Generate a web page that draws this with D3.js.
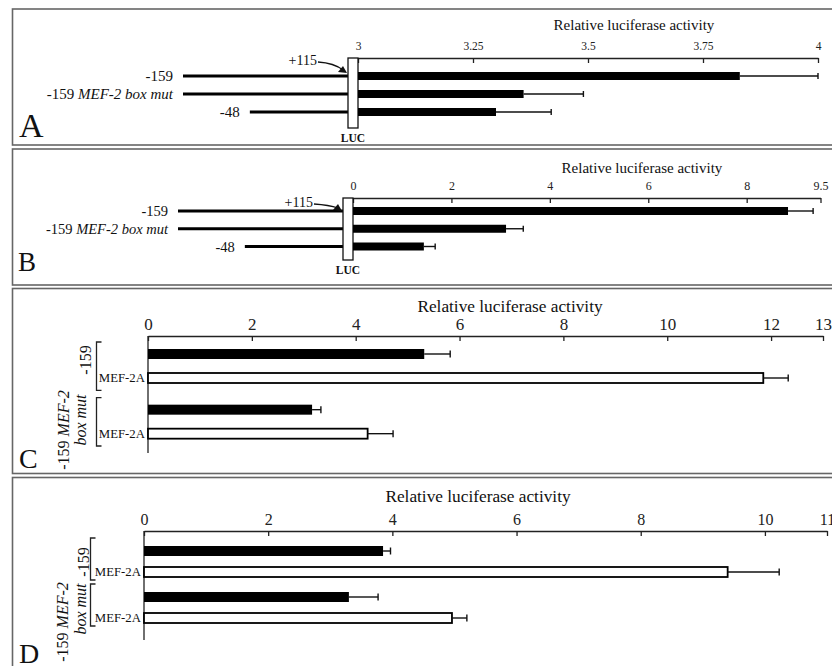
<!DOCTYPE html>
<html><head><meta charset="utf-8">
<script src="https://cdn.jsdelivr.net/npm/d3@7"></script>
</head><body style="margin:0;padding:0;background:#fff">
<svg id="chart" width="832" height="666"></svg>
<script>
// ---------------- DATA ----------------
const constructs = ["-159", "-159 MEF-2 box mut", "-48"];
const constructStarts = [-159, -159, -48];
const lucStart = 115;
const panelAValues = [3.83, 3.36, 3.30];
const panelAErrors = [0.17, 0.13, 0.12];
const panelATicks = [3, 3.25, 3.5, 3.75, 4];
const panelBValues = [8.84, 3.11, 1.44];
const panelBErrors = [0.51, 0.35, 0.23];
const panelBTicks = [0, 2, 4, 6, 8, 9.5];
const groups = ["-159", "-159 MEF-2 box mut"];
const treatments = ["control", "MEF-2A"];
const panelCValues = [[5.32, 11.85], [3.16, 4.23]];
const panelCErrors = [[0.50, 0.48], [0.17, 0.49]];
const panelCTicks = [0, 2, 4, 6, 8, 10, 12, 13];
const panelDValues = [[3.85, 9.40], [3.30, 4.96]];
const panelDErrors = [[0.12, 0.83], [0.47, 0.24]];
const panelDTicks = [0, 2, 4, 6, 8, 10, 11];
const axisTitle = "Relative luciferase activity";
const panelLetters = ["A", "B", "C", "D"];

// ---------------- DRAW ----------------
const svg = d3.select("#chart");
const FONT = "'Liberation Serif', serif";

function txt(g) {
  return g.append("text").attr("font-family", "Liberation Serif").style("font-family", FONT).attr("fill", "#111");
}

function border(top, height) {
  svg.append("rect").attr("x", 12.5).attr("y", top).attr("width", 840).attr("height", height)
    .attr("fill", "none").attr("stroke", "#666").attr("stroke-width", 1.6);
}

function styleAxis(ax, fs) {
  ax.attr("font-family", "Liberation Serif").attr("font-size", null);
  ax.select(".domain").attr("stroke", "#222").attr("stroke-width", 1.3);
  ax.selectAll(".tick line").attr("stroke", "#222").attr("stroke-width", 1.3);
  ax.selectAll(".tick text").attr("font-family", "Liberation Serif").style("font-family", FONT)
    .style("font-size", fs + "px").attr("fill", "#222");
}

function errorBar(g, x1, x2, y, cap) {
  g.append("line").attr("x1", x1).attr("x2", x2).attr("y1", y).attr("y2", y)
    .attr("stroke", "#111").attr("stroke-width", 1.4);
  g.append("line").attr("x1", x2).attr("x2", x2).attr("y1", y - cap).attr("y2", y + cap)
    .attr("stroke", "#111").attr("stroke-width", 1.4);
}

function labelWithItalic(sel, name) {
  const idx = name.indexOf("MEF-2 box mut");
  if (idx < 0) { sel.text(name); return; }
  sel.append("tspan").text(name.slice(0, idx));
  sel.append("tspan").style("font-style", "italic").text(name.slice(idx));
}

function promoterPanel(o) {
  border(o.top, o.height);
  const g = svg.append("g");
  const x = d3.scaleLinear().domain([o.ticks[0], o.ticks[o.ticks.length - 1]]).range([o.x0, o.x1]);
  const y = d3.scalePoint().domain(constructs).range([o.y0, o.y1]);
  const bp = d3.scaleLinear().domain([-159, lucStart]).range([o.lucX - 165, o.lucX]);

  txt(g).attr("x", o.titleX).attr("y", o.titleY).attr("text-anchor", "middle")
    .style("font-size", o.titleFont + "px").text(axisTitle);

  const ax = g.append("g").attr("transform", `translate(0,${o.axisY})`)
    .call(d3.axisTop(x).tickValues(o.ticks).tickSizeInner(-5).tickSizeOuter(0)
      .tickPadding(8).tickFormat(d => String(d)));
  styleAxis(ax, o.tickFont);

  constructs.forEach((c, i) => {
    g.append("line").attr("x1", bp(constructStarts[i])).attr("x2", o.lucX)
      .attr("y1", y(c)).attr("y2", y(c)).attr("stroke", "#000").attr("stroke-width", 3);
    const t = txt(g).attr("x", bp(constructStarts[i]) - 10).attr("y", y(c))
      .attr("dy", "0.35em").attr("text-anchor", "end").style("font-size", o.labelFont + "px");
    labelWithItalic(t, c);
  });

  g.append("rect").attr("x", o.lucX).attr("y", o.axisY).attr("width", x(o.ticks[0]) - o.lucX)
    .attr("height", o.boxBottom - o.axisY).attr("fill", "#fff").attr("stroke", "#111").attr("stroke-width", 1.3);
  txt(g).attr("x", (o.lucX + x(o.ticks[0])) / 2).attr("y", o.boxBottom + 14)
    .attr("text-anchor", "middle").style("font-size", "11.5px").style("font-weight", "bold").text("LUC");

  txt(g).attr("x", o.plusX).attr("y", o.plusY).attr("text-anchor", "end")
    .style("font-size", "14px").text("+" + lucStart);
  g.append("path").attr("d", `M${o.plusX + 1},${o.plusY - 3} Q${o.lucX - 14},${o.plusY - 2} ${o.lucX - 5},${o.arrowTipY - 3}`)
    .attr("fill", "none").attr("stroke", "#111").attr("stroke-width", 1.3);
  g.append("path").attr("d", `M${o.lucX - 1},${o.arrowTipY} L${o.lucX - 10},${o.arrowTipY - 1} L${o.lucX - 5},${o.arrowTipY - 7} Z`)
    .attr("fill", "#111");

  constructs.forEach((c, i) => {
    g.append("rect").attr("x", x(o.ticks[0])).attr("y", y(c) - 4)
      .attr("width", x(o.values[i]) - x(o.ticks[0])).attr("height", 8).attr("fill", "#000");
    errorBar(g, x(o.values[i]), x(o.values[i] + o.errors[i]), y(c), 3);
  });

  txt(g).attr("x", o.letterX).attr("y", o.letterY).style("font-size", o.letterFont + "px").text(o.letter);
}

function groupedPanel(o) {
  border(o.top, o.height);
  const g = svg.append("g");
  const x = d3.scaleLinear().domain([0, o.ticks[o.ticks.length - 1]]).range([o.x0, o.x1]);
  const gy = d3.scaleBand().domain(groups).range([o.g0, o.g1]).paddingInner(o.gpad);
  const ty = d3.scalePoint().domain(treatments).range([o.t0, o.t1]);

  txt(g).attr("x", o.titleX).attr("y", o.titleY).attr("text-anchor", "middle")
    .style("font-size", o.titleFont + "px").text(axisTitle);

  const ax = g.append("g").attr("transform", `translate(0,${o.axisY})`)
    .call(d3.axisTop(x).tickValues(o.ticks).tickSizeInner(-5).tickSizeOuter(0)
      .tickPadding(6).tickFormat(d => String(d)));
  styleAxis(ax, o.tickFont);
  g.append("line").attr("x1", o.x0).attr("x2", o.x0).attr("y1", o.axisY).attr("y2", o.axisBottom)
    .attr("stroke", "#222").attr("stroke-width", 1.3);

  groups.forEach((grp, i) => {
    const top = gy(grp), bw = gy.bandwidth();
    g.append("path").attr("d", `M${o.bracketX + 5},${top + 2} H${o.bracketX} V${top + bw - 2} H${o.bracketX + 5}`)
      .attr("fill", "none").attr("stroke", "#222").attr("stroke-width", 1.3);
    treatments.forEach((t, j) => {
      const cy = top + ty(t);
      const v = o.values[i][j], e = o.errors[i][j];
      g.append("rect").attr("x", x(0)).attr("y", cy - 5).attr("width", x(v) - x(0)).attr("height", 10)
        .attr("fill", j === 0 ? "#000" : "#fff").attr("stroke", "#000").attr("stroke-width", j === 0 ? 0 : 1.8);
      errorBar(g, x(v), x(v + e), cy, 3.5);
      if (t === "MEF-2A") {
        txt(g).attr("x", x(0) - 3).attr("y", cy).attr("dy", "0.35em").attr("text-anchor", "end")
          .style("font-size", o.mefFont + "px").text(t);
      }
    });
  });

  const gl = o.groupLabels;
  txt(g).attr("transform", `translate(${gl[0][0]},${gl[0][1]}) rotate(-90)`)
    .attr("text-anchor", "middle").attr("dy", "0.35em").style("font-size", o.groupFont + "px").text(groups[0]);
  const parts = groups[1].split(" ");
  const l1 = txt(g).attr("transform", `translate(${gl[1][0]},${gl[1][1]}) rotate(-90)`)
    .attr("text-anchor", "middle").attr("dy", "0.35em").style("font-size", o.groupFont + "px");
  l1.append("tspan").text(parts[0] + " ");
  l1.append("tspan").style("font-style", "italic").text(parts[1]);
  txt(g).attr("transform", `translate(${gl[2][0]},${gl[2][1]}) rotate(-90)`)
    .attr("text-anchor", "middle").attr("dy", "0.35em").style("font-size", o.groupFont + "px")
    .style("font-style", "italic").text(parts.slice(2).join(" "));

  txt(g).attr("x", o.letterX).attr("y", o.letterY).style("font-size", o.letterFont + "px").text(o.letter);
}

promoterPanel({
  letter: panelLetters[0], top: 9, height: 136, ticks: panelATicks, values: panelAValues, errors: panelAErrors,
  x0: 358, x1: 818, y0: 76, y1: 112, axisY: 58, boxBottom: 128, lucX: 348,
  titleX: 634, titleY: 30, titleFont: 15, tickFont: 11.5, labelFont: 15,
  plusX: 317, plusY: 65, arrowTipY: 73,
  letterX: 19, letterY: 137, letterFont: 34
});
promoterPanel({
  letter: panelLetters[1], top: 149, height: 136, ticks: panelBTicks, values: panelBValues, errors: panelBErrors,
  x0: 353, x1: 820.5, y0: 211, y1: 246.5, axisY: 198, boxBottom: 260, lucX: 343,
  titleX: 642, titleY: 173, titleFont: 15, tickFont: 12, labelFont: 14.5,
  plusX: 313, plusY: 207, arrowTipY: 211,
  letterX: 18, letterY: 271, letterFont: 27
});
groupedPanel({
  letter: panelLetters[2], top: 288.5, height: 185, ticks: panelCTicks, values: panelCValues, errors: panelCErrors,
  x0: 148, x1: 823, axisY: 336, axisBottom: 453, g0: 340, g1: 448, gpad: 0.06, t0: 14, t1: 38,
  bracketX: 96.5, titleX: 510, titleY: 312, titleFont: 17.3, tickFont: 17, mefFont: 12.8, groupFont: 16,
  groupLabels: [[85, 360], [63, 430], [80, 420]],
  letterX: 19, letterY: 468, letterFont: 28
});
groupedPanel({
  letter: panelLetters[3], top: 477.5, height: 200, ticks: panelDTicks, values: panelDValues, errors: panelDErrors,
  x0: 144, x1: 827, axisY: 531, axisBottom: 640, g0: 536, g1: 628, gpad: 0, t0: 15, t1: 36,
  bracketX: 90.5, titleX: 478, titleY: 502, titleFont: 17.3, tickFont: 16, mefFont: 12.8, groupFont: 16,
  groupLabels: [[83, 562], [62, 622], [80, 609]],
  letterX: 19, letterY: 663, letterFont: 28
});
</script>
</body></html>
